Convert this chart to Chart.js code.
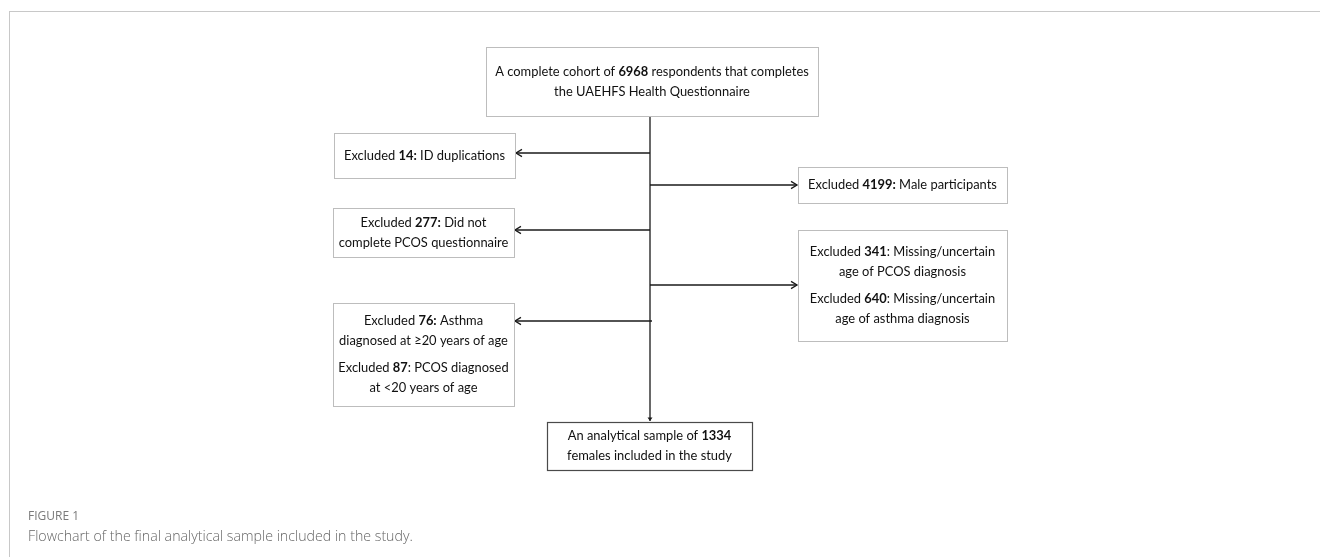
<!DOCTYPE html>
<html>
<head>
<meta charset="utf-8">
<script src="https://cdn.jsdelivr.net/npm/chart.js@4.4.1/dist/chart.umd.min.js"></script>
<style>
  html, body { margin: 0; padding: 0; background: #fff; }
  #wrap { position: relative; width: 1320px; height: 557px; overflow: hidden; }
  #frame { position: absolute; left: 9px; top: 11px; right: 0; bottom: 0;
           border-top: 1px solid #c8c8c8; border-left: 1px solid #c8c8c8; }
  #flow { position: absolute; left: 0; top: 0; }
  .cap1 { position: absolute; left: 28px; top: 507px; font: 12px "Open Sans", sans-serif;
          color: #7a7a7a; }
  .cap2 { position: absolute; left: 28px; top: 526px; font: 300 14.2px "Open Sans", sans-serif;
          color: #666; }
</style>
</head>
<body>
<div id="wrap">
  <div id="frame"></div>
  <canvas id="flow" width="1320" height="557"></canvas>
  <div class="cap1">FIGURE 1</div>
  <div class="cap2">Flowchart of the final analytical sample included in the study.</div>
</div>
<script>
// counts shown in the flowchart
const cohortTotal = 6968;
const excludedCounts = [14, 4199, 277, 341, 640, 76, 87];
const finalSample = 1334;

// box texts: each box is a list of paragraphs, each paragraph a list of lines
// text between ** ** is drawn bold
const boxText = [
  [[`A complete cohort of **${cohortTotal}** respondents that completes`, "the UAEHFS Health Questionnaire"]],
  [[`Excluded **${excludedCounts[0]}:** ID duplications`]],
  [[`Excluded **${excludedCounts[1]}:** Male participants`]],
  [[`Excluded **${excludedCounts[2]}:** Did not`, "complete PCOS questionnaire"]],
  [[`Excluded **${excludedCounts[3]}**: Missing/uncertain`, "age of PCOS diagnosis"],
   [`Excluded **${excludedCounts[4]}**: Missing/uncertain`, "age of asthma diagnosis"]],
  [[`Excluded **${excludedCounts[5]}:** Asthma`, "diagnosed at \u226520 years of age"],
   [`Excluded **${excludedCounts[6]}**: PCOS diagnosed`, "at <20 years of age"]],
  [[`An analytical sample of **${finalSample}**`, "females included in the study"]]
];

// layout (in scale units, x 0..1320, y 0..557 top-down)
const boxRect = [
  [486, 47, 818, 116],
  [334, 133, 515, 178],
  [798, 167, 1007, 203],
  [333, 208, 514, 257],
  [798, 230, 1007, 341],
  [333, 303, 514, 406],
  [547, 422, 752, 470]
];
const boxBorder = ["#bdbdbd", "#bdbdbd", "#bdbdbd", "#bdbdbd", "#bdbdbd", "#bdbdbd", "#4a4a4a"];

// connectors: [from, to], arrow at "to"
const connectors = [
  [[650, 116], [650, 421]],
  [[650, 153], [516, 153]],
  [[650, 185], [797, 185]],
  [[650, 230], [515, 230]],
  [[650, 285], [797, 285]],
  [[652, 321], [515, 321]]
];

const FONT = '"Lato", "Open Sans", sans-serif';
const FONT_SIZE = 12.9;
const LINE_GAP = 20;
const PARA_GAP = 7;

function parseRuns(line) {
  const parts = line.split("**");
  return parts.map((t, i) => ({ text: t, bold: i % 2 === 1 })).filter(r => r.text.length);
}

const flowPlugin = {
  id: "flowBoxes",
  afterDatasetsDraw(chart) {
    const ctx = chart.ctx;
    const xs = chart.scales.x, ys = chart.scales.y;
    ctx.save();

    // arrow heads
    connectors.forEach(c => {
      const x1 = xs.getPixelForValue(c[0][0]), y1 = ys.getPixelForValue(c[0][1]);
      const x2 = xs.getPixelForValue(c[1][0]), y2 = ys.getPixelForValue(c[1][1]);
      const ang = Math.atan2(y2 - y1, x2 - x1);
      ctx.strokeStyle = "#1a1a1a";
      ctx.fillStyle = "#1a1a1a";
      ctx.lineWidth = 1.3;
      if (Math.abs(y2 - y1) > Math.abs(x2 - x1)) {
        // small filled head going down
        ctx.beginPath();
        ctx.moveTo(x2, y2);
        ctx.lineTo(x2 - 3.5 * Math.cos(ang) - 2.5 * Math.sin(ang), y2 - 3.5 * Math.sin(ang) + 2.5 * Math.cos(ang));
        ctx.lineTo(x2 - 3.5 * Math.cos(ang) + 2.5 * Math.sin(ang), y2 - 3.5 * Math.sin(ang) - 2.5 * Math.cos(ang));
        ctx.closePath();
        ctx.fill();
      } else {
        const L = 7, a = 0.55;
        ctx.beginPath();
        ctx.moveTo(x2 - L * Math.cos(ang - a), y2 - L * Math.sin(ang - a));
        ctx.lineTo(x2, y2);
        ctx.lineTo(x2 - L * Math.cos(ang + a), y2 - L * Math.sin(ang + a));
        ctx.stroke();
      }
    });

    // boxes
    boxRect.forEach((r, i) => {
      const left = xs.getPixelForValue(r[0]), top = ys.getPixelForValue(r[1]);
      const right = xs.getPixelForValue(r[2]), bottom = ys.getPixelForValue(r[3]);
      ctx.fillStyle = "#fff";
      ctx.fillRect(left, top, right - left, bottom - top);
      ctx.strokeStyle = boxBorder[i];
      ctx.lineWidth = i === boxRect.length - 1 ? 1.2 : 1;
      ctx.strokeRect(Math.round(left) + 0.5, Math.round(top) + 0.5, right - left, bottom - top);

      const paras = boxText[i];
      const nLines = paras.reduce((s, p) => s + p.length, 0);
      const total = (nLines - 1) * LINE_GAP + (paras.length - 1) * PARA_GAP;
      const cx = (left + right) / 2;
      let y = (top + bottom) / 2 - total / 2;
      ctx.textBaseline = "middle";
      ctx.fillStyle = "#111";
      paras.forEach((p, pi) => {
        p.forEach(line => {
          const runs = parseRuns(line);
          let w = 0;
          runs.forEach(rn => {
            ctx.font = (rn.bold ? "bold " : "") + FONT_SIZE + "px " + FONT;
            rn.w = ctx.measureText(rn.text).width;
            w += rn.w;
          });
          let x = cx - w / 2;
          runs.forEach(rn => {
            ctx.font = (rn.bold ? "bold " : "") + FONT_SIZE + "px " + FONT;
            ctx.textAlign = "left";
            ctx.fillText(rn.text, x, y);
            x += rn.w;
          });
          y += LINE_GAP;
        });
        y += PARA_GAP;
      });
    });
    ctx.restore();
  }
};

const datasets = connectors.map(c => ({
  data: c.map(p => ({ x: p[0], y: p[1] })),
  showLine: true,
  borderColor: "#1a1a1a",
  borderWidth: 1.3,
  pointRadius: 0,
  fill: false
}));

new Chart(document.getElementById("flow").getContext("2d"), {
  type: "scatter",
  data: { datasets },
  options: {
    responsive: false,
    animation: false,
    events: [],
    layout: { padding: 0 },
    plugins: { legend: { display: false }, tooltip: { enabled: false } },
    scales: {
      x: { type: "linear", min: 0, max: 1320, display: false },
      y: { type: "linear", min: 0, max: 557, reverse: true, display: false }
    }
  },
  plugins: [flowPlugin]
});
</script>
</body>
</html>
